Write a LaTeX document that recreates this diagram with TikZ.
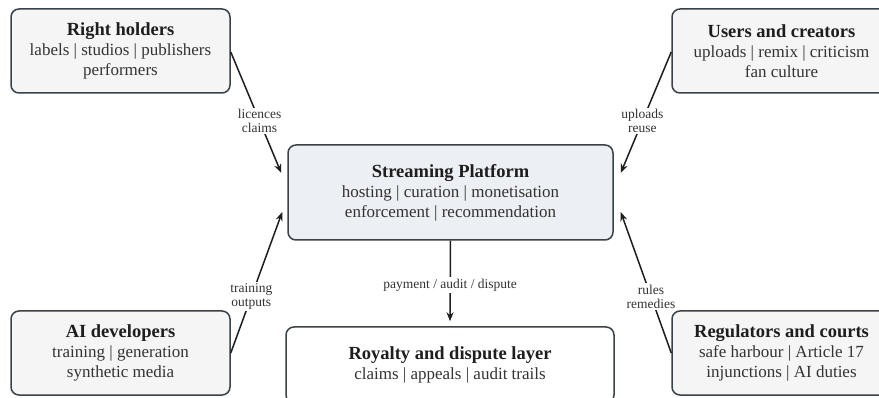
\documentclass[tikz,border=0pt]{standalone}
\usepackage{fontspec}
\setmainfont{Liberation Serif}
\usetikzlibrary{arrows.meta}
\definecolor{edgecol}{HTML}{3A4148}
\definecolor{boxfill}{HTML}{F5F5F5}
\definecolor{platfill}{HTML}{ECEFF3}
\definecolor{titlecol}{HTML}{1E1E1E}
\definecolor{subcol}{HTML}{333333}
\tikzset{
  actor/.style={draw=edgecol, line width=1.5pt, rounded corners=8pt, fill=boxfill,
    minimum width=219pt, minimum height=84pt, align=center, inner sep=0pt,
    text=subcol, font=\fontsize{17}{20}\selectfont},
  platbox/.style={actor, fill=platfill, minimum width=325pt, minimum height=95pt},
  layerbox/.style={actor, fill=white, minimum width=328pt, minimum height=76pt},
  flow/.style={draw=titlecol, line width=1.5pt, -{Stealth[length=9pt,width=7pt]}},
  flowlabel/.style={fill=white, inner sep=1.5pt, align=center, text=subcol,
    font=\fontsize{13.5}{14}\selectfont},
}
\newcommand{\ttl}[1]{{\color{titlecol}\fontsize{18.5}{20}\selectfont\bfseries #1}}
\begin{document}
\begin{tikzpicture}[x=1pt,y=-1pt]
\clip (0,0) rectangle (879,398);
\fill[white] (0,0) rectangle (879,398);

\node[actor] (rh) at (120.5,51) {\ttl{Right holders}\\labels | studios | publishers\\performers};
\node[actor] (uc) at (781.5,51) {\ttl{Users and creators}\\uploads | remix | criticism\\fan culture};
\node[platbox] (sp) at (450.5,192.5) {\ttl{Streaming Platform}\\hosting | curation | monetisation\\enforcement | recommendation};
\node[actor] (ai) at (120.5,353) {\ttl{AI developers}\\training | generation\\synthetic media};
\node[actor] (rc) at (781.5,353) {\ttl{Regulators and courts}\\safe harbour | Article 17\\injunctions | AI duties};
\node[layerbox] (rl) at (450,365) {\ttl{Royalty and dispute layer}\\claims | appeals | audit trails};

\draw[flow] ([yshift=-1pt]rh.east) -- ([xshift=-6pt,yshift=19.5pt]sp.west)
  node[flowlabel,pos=0.57] (l1) {licences\\claims};
\draw[flow] ([yshift=-1pt]uc.west) -- ([xshift=7pt,yshift=19.5pt]sp.east)
  node[flowlabel,pos=0.57] (l2) {uploads\\reuse};
\draw[flow] (ai.east) -- ([xshift=-5pt,yshift=-19.5pt]sp.west)
  node[flowlabel,pos=0.40] (l3) {training\\outputs};
\draw[flow] (rc.west) -- ([xshift=7pt,yshift=-19.5pt]sp.east)
  node[flowlabel,pos=0.40] (l4) {rules\\remedies};
\draw[flow] (sp.south) -- ([yshift=5pt]rl.north)
  node[flowlabel,pos=0.55] (l5) {payment / audit / dispute};
\end{tikzpicture}
\end{document}
